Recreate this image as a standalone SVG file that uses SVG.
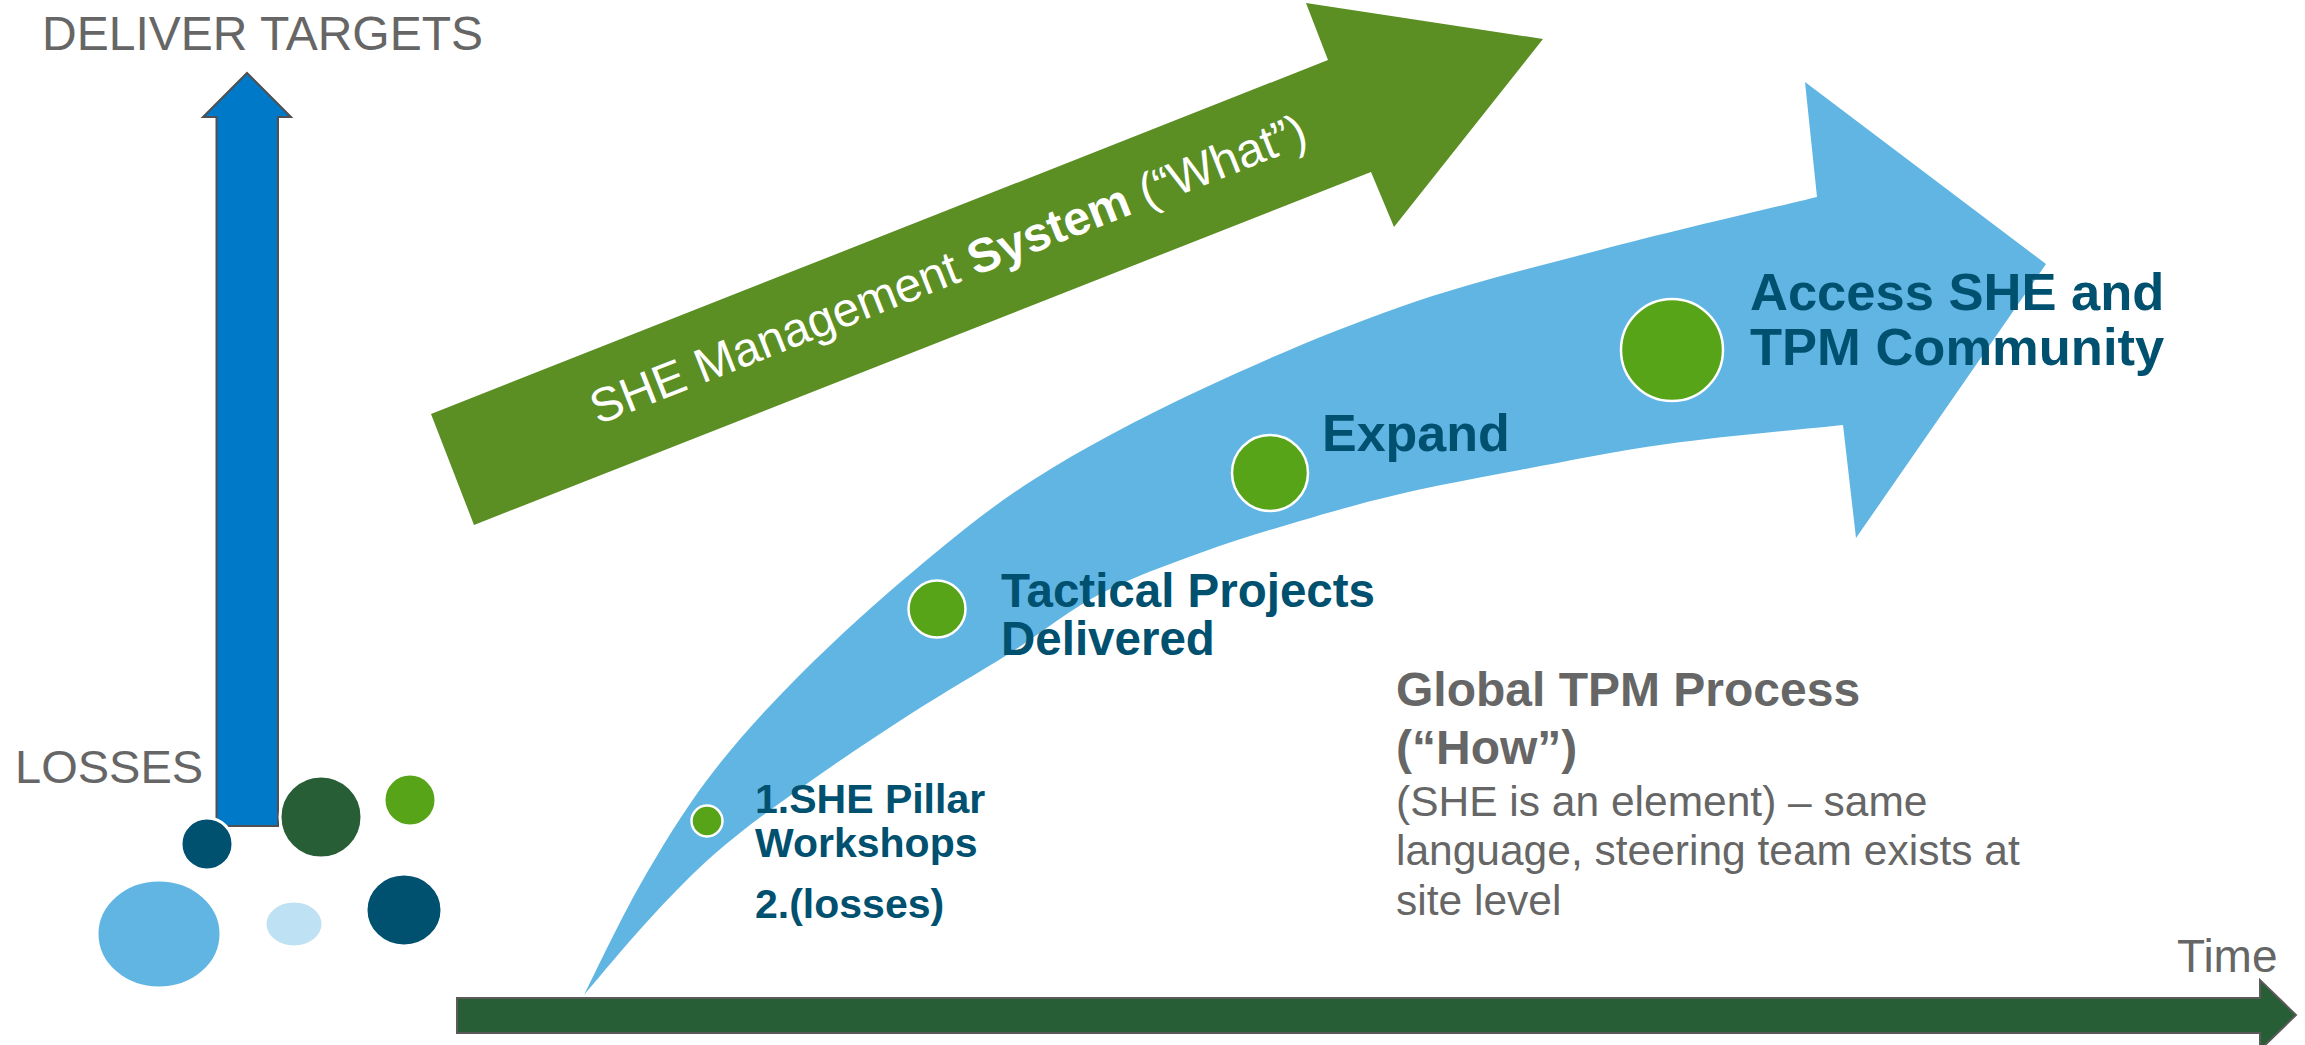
<svg xmlns="http://www.w3.org/2000/svg" width="2305" height="1045" viewBox="0 0 2305 1045">
<style>
text{font-family:"Liberation Sans",Arial,Helvetica,sans-serif}
.gray{fill:#666666;font-size:48px}
.navy{fill:#00506F;font-weight:bold}
.dot{fill:#58A418;stroke:#ffffff;stroke-width:2.5}
.bub{stroke:#ffffff;stroke-width:3}
</style>
<rect width="2305" height="1045" fill="#ffffff"/>
<g id="axes">
<polygon id="targets-arrow" points="216.5,826 216.5,117 203,117 247,73 291,117 278,117 278,826" fill="#0079C8" stroke="#505050" stroke-width="2"/>
<polygon id="time-arrow" points="457,998 2260,998 2260,980 2296,1015 2260,1050 2260,1033 457,1033" fill="#285E36" stroke="#5a5a5a" stroke-width="2"/>
</g>
<g id="losses-bubbles">
<circle class="bub" cx="207" cy="844" r="26" fill="#00506F"/>
<circle class="bub" cx="321" cy="817" r="41" fill="#285E36"/>
<circle class="bub" cx="410" cy="800" r="26" fill="#58A418"/>
<ellipse class="bub" cx="159" cy="934" rx="62" ry="54" fill="#60B5E3"/>
<ellipse class="bub" cx="294" cy="924" rx="29" ry="23" fill="#BEE2F4"/>
<ellipse class="bub" cx="404" cy="910" rx="38" ry="36" fill="#00506F"/>
</g>
<g id="labels-axes">
<text class="gray" x="42" y="50">DELIVER TARGETS</text>
<text class="gray" x="15" y="783" style="font-size:47px">LOSSES</text>
<text class="gray" x="2177" y="972" style="font-size:46px">Time</text>
</g>
<g id="she-management-arrow">
<polygon points="431,414 1328,60 1306,3 1543,39 1394,227 1371,172 474,525" fill="#5B8E23"/>
<text transform="translate(598,425) rotate(-21.56)" fill="#ffffff" style="font-size:48px">SHE Management <tspan font-weight="bold">System</tspan> (“What”)</text>
</g>
<g id="tpm-process-arrow">
<path fill="#60B5E3" d="M584,995 C593.3,976.7 619.5,920.8 640,885 C660.5,849.2 682,813.3 707,780 C732,746.7 757.3,718.3 790,685 C822.7,651.7 862.5,614.2 903,580 C943.5,545.8 983.5,511.7 1033,480 C1082.5,448.3 1138.8,418.8 1200,390 C1261.2,361.2 1333.3,330.3 1400,307 C1466.7,283.7 1530.5,268.3 1600,250 C1669.5,231.7 1780.8,205.8 1817,197 L1805,82 L2046,264 L1856,538 L1843,425 C1813.7,428.2 1720.8,436.5 1667,444 C1613.2,451.5 1564.5,461.7 1520,470 C1475.5,478.3 1436.7,485.5 1400,494 C1363.3,502.5 1333.3,511.2 1300,521 C1266.7,530.8 1233.3,540.8 1200,553 C1166.7,565.2 1131.7,577.3 1100,594 C1068.3,610.7 1041.3,633.2 1010,653 C978.7,672.8 944.5,692.2 912,713 C879.5,733.8 846.2,756 815,778 C783.8,800 751.7,822.5 725,845 C698.3,867.5 678.5,888 655,913 C631.5,938 595.8,981.3 584,995 Z"/>
</g>
<g id="step-pillar">
<circle class="dot" cx="707" cy="821" r="15.5"/>
<text class="navy" style="font-size:41px"><tspan x="755" y="813">1.SHE Pillar</tspan><tspan x="755" y="857">Workshops</tspan><tspan x="755" y="918">2.(losses)</tspan></text>
</g>
<g id="step-tactical">
<circle class="dot" cx="937" cy="609" r="28.5"/>
<text class="navy" style="font-size:47.5px"><tspan x="1001" y="607">Tactical Projects</tspan><tspan x="1001" y="655">Delivered</tspan></text>
</g>
<g id="step-expand">
<circle class="dot" cx="1270" cy="473" r="38"/>
<text class="navy" x="1322" y="451" style="font-size:52px">Expand</text>
</g>
<g id="step-access">
<circle class="dot" cx="1672" cy="350" r="51"/>
<text class="navy" style="font-size:52.5px"><tspan x="1750" y="310">Access SHE and</tspan><tspan x="1750" y="365">TPM Community</tspan></text>
</g>
<g id="global-tpm-text" fill="#666666">
<text style="font-size:48px;font-weight:bold"><tspan x="1396" y="706">Global TPM Process</tspan><tspan x="1396" y="764">(“How”)</tspan></text>
<text style="font-size:42.5px"><tspan x="1396" y="816">(SHE is an element) – same</tspan><tspan x="1396" y="865">language, steering team exists at</tspan><tspan x="1396" y="915">site level</tspan></text>
</g>
</svg>
